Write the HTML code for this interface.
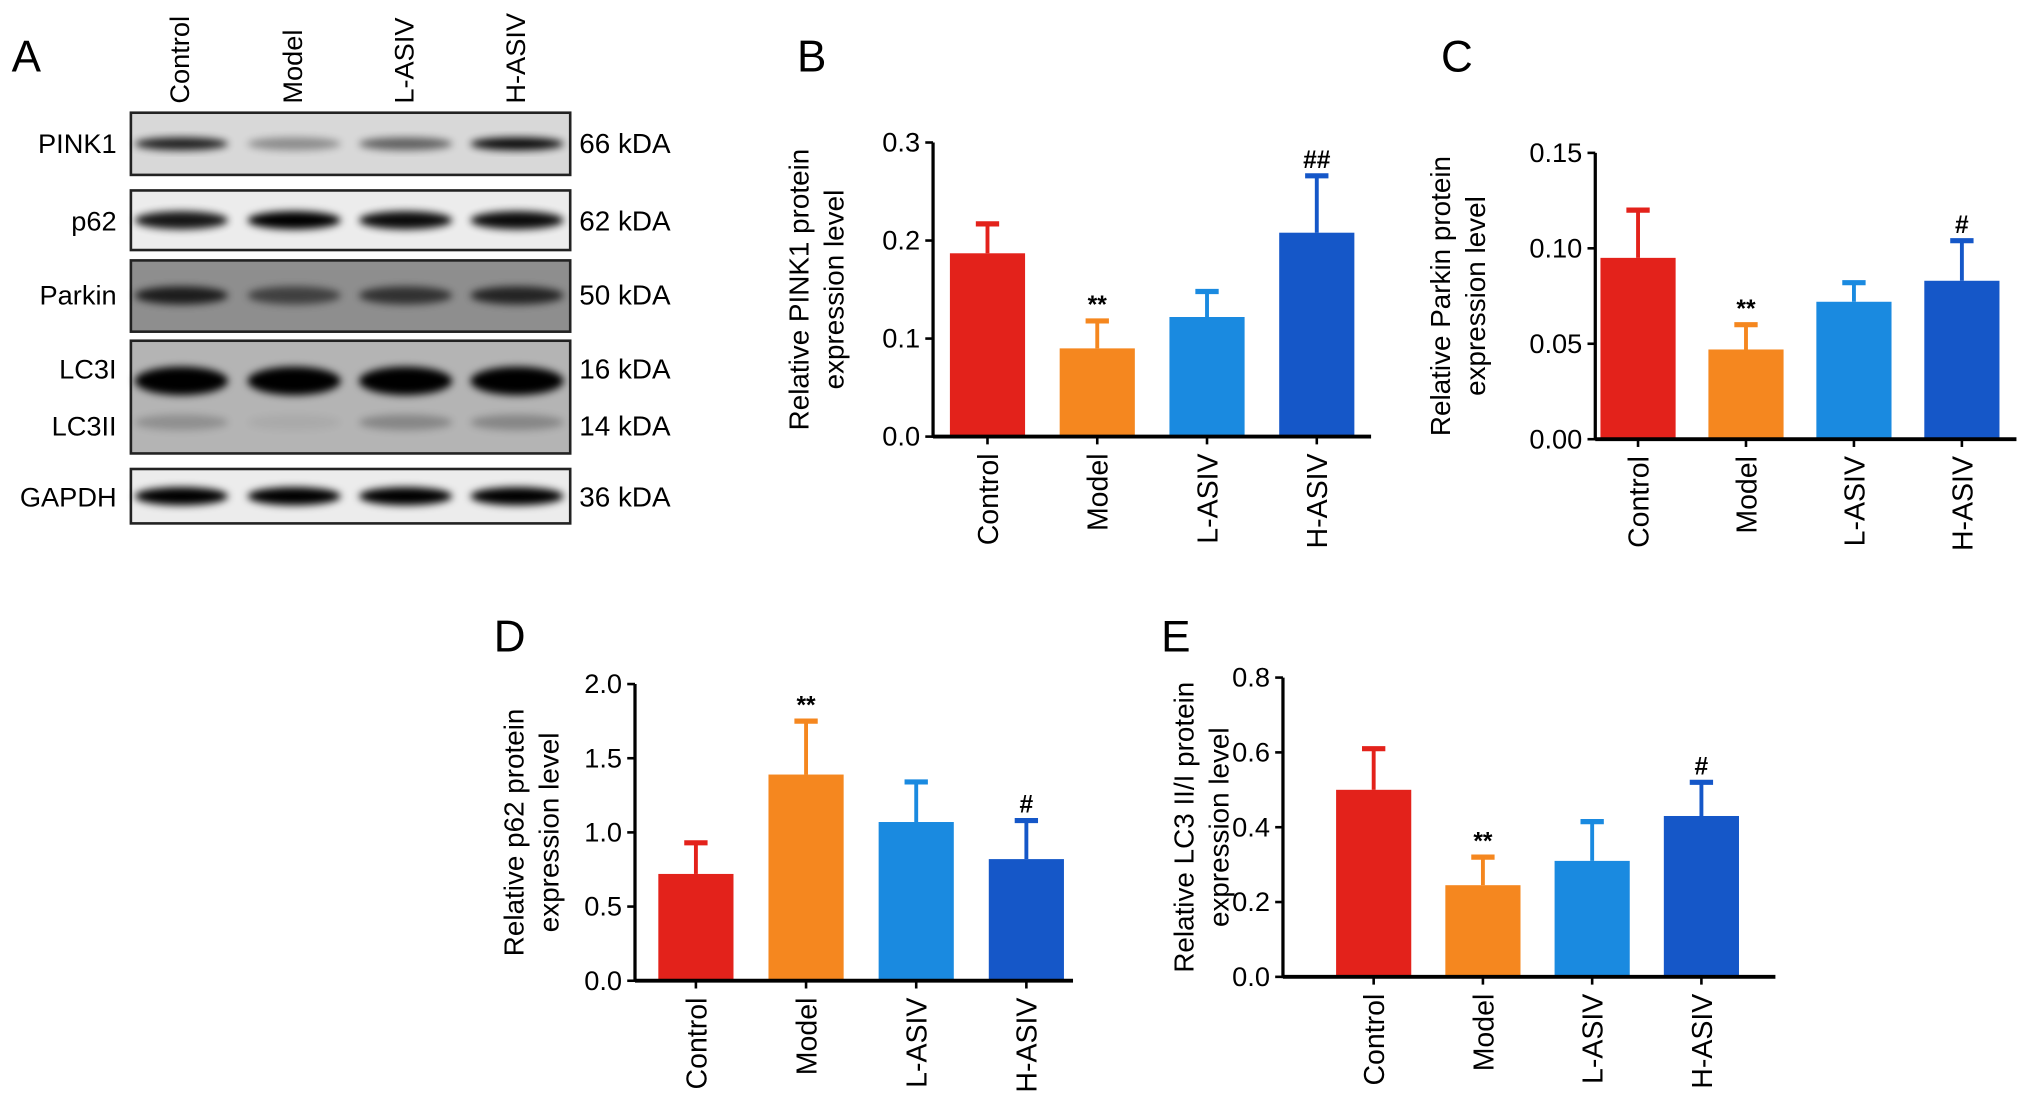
<!DOCTYPE html>
<html><head><meta charset="utf-8"><style>
html,body{margin:0;padding:0;background:#fff;}
svg{display:block;font-family:"Liberation Sans",Arial,sans-serif;}
</style></head><body>
<svg id="fig" width="2032" height="1109" viewBox="0 0 1568 856" preserveAspectRatio="none" xmlns="http://www.w3.org/2000/svg">
<defs>
<filter id="blur" x="-20%" y="-50%" width="140%" height="200%"><feGaussianBlur stdDeviation="3"/></filter>
</defs>
<g id="blot"></g>
<g id="charts"></g>
</svg>
<script>
const categories = ["Control","Model","L-ASIV","H-ASIV"];
const colors = ["#e3221b","#f5871f","#1a8ae0","#1557c8"];

const pinkValues = [0.187, 0.090, 0.122, 0.208];
const pinkErrors = [0.217, 0.118, 0.148, 0.266];
const pinkTicks = [0.0, 0.1, 0.2, 0.3];
const pinkTickLabels = ["0.0","0.1","0.2","0.3"];
const pinkSig = ["", "**", "", "##"];

const parkinValues = [0.095, 0.047, 0.072, 0.083];
const parkinErrors = [0.120, 0.060, 0.082, 0.104];
const parkinTicks = [0, 0.05, 0.10, 0.15];
const parkinTickLabels = ["0.00","0.05","0.10","0.15"];
const parkinSig = ["", "**", "", "#"];

const p62Values = [0.72, 1.39, 1.07, 0.82];
const p62Errors = [0.93, 1.75, 1.34, 1.08];
const p62Ticks = [0, 0.5, 1.0, 1.5, 2.0];
const p62TickLabels = ["0.0","0.5","1.0","1.5","2.0"];
const p62Sig = ["", "**", "", "#"];

const lc3Values = [0.50, 0.245, 0.31, 0.43];
const lc3Errors = [0.61, 0.32, 0.415, 0.52];
const lc3Ticks = [0, 0.2, 0.4, 0.6, 0.8];
const lc3TickLabels = ["0.0","0.2","0.4","0.6","0.8"];
const lc3Sig = ["", "**", "", "#"];

const NS = "http://www.w3.org/2000/svg";
function mk(tag, attrs, parent){
  const e = document.createElementNS(NS, tag);
  for (const k in attrs) e.setAttribute(k, attrs[k]);
  if (parent) parent.appendChild(e);
  return e;
}

function drawChart(cfg){
  const g = mk("g", {}, document.getElementById("charts"));
  
  
  const max = cfg.ticks[cfg.ticks.length-1];
  const y = v => cfg.y0 - (v / max) * (cfg.y0 - cfg.yTop);
  const step = cfg.step;
  const xc = i => cfg.firstX + i * step;
  const L = mk("text", {x: cfg.letterX, y: cfg.letterY, "font-size": 34}, g);
  L.textContent = cfg.letter;
  
  
  cfg.values.forEach((v, i) => {
    const bw = 58;
    const top = y(v), ey = y(cfg.errors[i]);
    const ln = mk("line", {x1: xc(i), x2: xc(i), y1: top, y2: ey, stroke: colors[i], "stroke-width": 3}, g);
    
    
    const cap = mk("line", {x1: xc(i)-9, x2: xc(i)+9, y1: ey, y2: ey, stroke: colors[i], "stroke-width": 4}, g);
    
    
    const r = mk("rect", {x: xc(i)-bw/2, y: top, width: bw, height: cfg.y0 - top, fill: colors[i]}, g);
    
    
    if (cfg.sig[i]) {
      const s = mk("text", {x: xc(i), y: ey - 6, "text-anchor": "middle", "font-size": 19, "font-weight": "bold"}, g);
      s.textContent = cfg.sig[i];
      
      
    }
    const t = mk("text", {transform: `translate(${xc(i)+8},${cfg.y0+13}) rotate(-90)`, "text-anchor": "end", "font-size": 22}, g);
    t.textContent = categories[i];
    
    
    const tk = mk("line", {x1: xc(i), x2: xc(i), y1: cfg.y0, y2: cfg.y0+6, stroke: "#000", "stroke-width": 2}, g);
    
    
  });
  const ya = mk("line", {x1: cfg.x0, x2: cfg.x0, y1: cfg.yTop, y2: cfg.y0+1, stroke: "#000", "stroke-width": 2.5}, g);
  
  
  const xa = mk("line", {x1: cfg.x0, x2: cfg.xEnd, y1: cfg.y0, y2: cfg.y0, stroke: "#000", "stroke-width": 3}, g);
  
  
  cfg.ticks.forEach((tv, i) => {
    const tl = mk("line", {x1: cfg.x0-6, x2: cfg.x0, y1: y(tv), y2: y(tv), stroke: "#000", "stroke-width": 2}, g);
    
    
    const tt = mk("text", {x: cfg.x0-10, y: y(tv)+7, "text-anchor": "end", "font-size": 21}, g);
    tt.textContent = cfg.tickLabels[i];
    
    
  });
  const cy = (cfg.y0 + cfg.yTop)/2;
  cfg.title.forEach((line, k) => {
    const tx = cfg.titleX + k*27;
    const tt = mk("text", {transform: `translate(${tx},${cy}) rotate(-90)`, "text-anchor": "middle", "font-size": 21.5}, g);
    tt.textContent = line;
    
    
  });
}

drawChart({name:"chart-pink1", letter:"B", letterX:615, letterY:55, x0:720, xEnd:1058, y0:337, yTop:110, firstX:762, step:84.7,
  values:pinkValues, errors:pinkErrors, ticks:pinkTicks, tickLabels:pinkTickLabels, sig:pinkSig, titleX:624,
  title:["Relative PINK1 protein","expression level"]});
drawChart({name:"chart-parkin", letter:"C", letterX:1112, letterY:55, x0:1231, xEnd:1556, y0:339, yTop:118, firstX:1264, step:83.3,
  values:parkinValues, errors:parkinErrors, ticks:parkinTicks, tickLabels:parkinTickLabels, sig:parkinSig, titleX:1119,
  title:["Relative Parkin protein","expression level"]});
drawChart({name:"chart-p62", letter:"D", letterX:381, letterY:503, x0:490, xEnd:828, y0:757, yTop:528, firstX:537, step:85,
  values:p62Values, errors:p62Errors, ticks:p62Ticks, tickLabels:p62TickLabels, sig:p62Sig, titleX:404,
  title:["Relative p62 protein","expression level"]});
drawChart({name:"chart-lc3", letter:"E", letterX:896, letterY:503, x0:990, xEnd:1370, y0:754, yTop:523, firstX:1060, step:84.3,
  values:lc3Values, errors:lc3Errors, ticks:lc3Ticks, tickLabels:lc3TickLabels, sig:lc3Sig, titleX:921,
  title:["Relative LC3 II/I protein","expression level"]});

(function(){
  const g = document.getElementById("blot");
  const t = mk("text", {x: 9, y: 55, "font-size": 34}, g);
  t.textContent = "A";
  
  
  const lanes = [138, 225, 311, 397];
  categories.forEach((c, i) => {
    const lt = mk("text", {transform: `translate(${lanes[i]+8},80) rotate(-90)`, "font-size": 21}, g);
    lt.textContent = c;
    
    
  });
  const rows = [
    {n:"PINK1", y:87, h:48, bg:"#d8d8d8", kd:["66 kDA"], ky:[118], ly:[118], lab:["PINK1"], bands:[[111,[0.85,0.35,0.55,0.95],5]]},
    {n:"p62", y:147, h:46, bg:"#ececec", kd:["62 kDA"], ky:[178], ly:[178], lab:["p62"], bands:[[170,[0.9,1,0.95,0.95],7]]},
    {n:"Parkin", y:201, h:55, bg:"#8e8e8e", kd:["50 kDA"], ky:[235], ly:[235], lab:["Parkin"], bands:[[228,[0.8,0.55,0.65,0.75],7]]},
    {n:"LC3", y:263, h:87, bg:"#b4b4b4", kd:["16 kDA","14 kDA"], ky:[292,336], ly:[292,336], lab:["LC3I","LC3II"], bands:[[294,[1,1,1,1],11],[326,[0.2,0.05,0.25,0.25],6]]},
    {n:"GAPDH", y:362, h:42, bg:"#ececec", kd:["36 kDA"], ky:[391], ly:[391], lab:["GAPDH"], bands:[[383,[1,1,1,1],7]]}
  ];
  rows.forEach(r => {
    const rect = mk("rect", {x:101, y:r.y, width:339, height:r.h, fill:r.bg, stroke:"#222", "stroke-width":2}, g);
    
    
    r.bands.forEach(b => {
      lanes.forEach((lx, i) => {
        const e = mk("ellipse", {cx: lx+2, cy: b[0], rx: 36, ry: b[2], fill: "#000", opacity: b[1][i], filter: "url(#blur)"}, g);
        
        
      });
    });
    r.lab.forEach((l, k) => {
      const lt = mk("text", {x: 90, y: r.ly[k], "text-anchor": "end", "font-size": 21}, g);
      lt.textContent = l;
      
      
    });
    r.kd.forEach((l, k) => {
      const kt = mk("text", {x: 447, y: r.ky[k], "font-size": 21.5}, g);
      kt.textContent = l;
      
      
    });
  });
})();
</script>
</body></html>
